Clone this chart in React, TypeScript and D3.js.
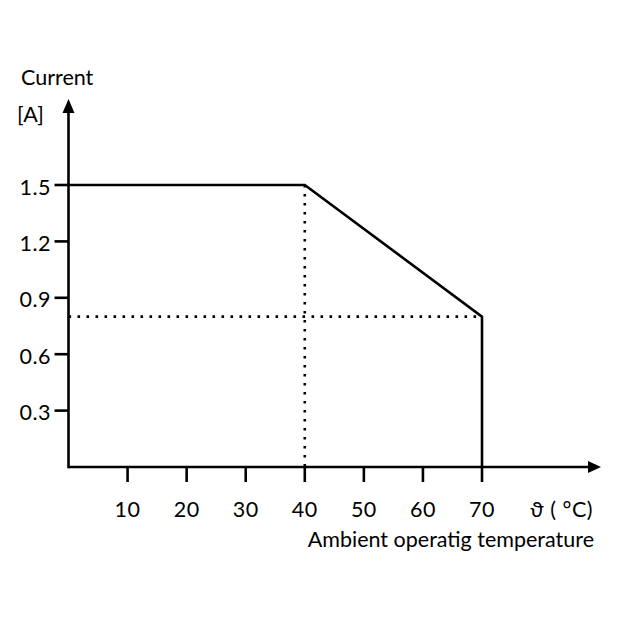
import React from "react";
import * as d3 from "d3";

const temps = [0, 40, 70, 70];
const currents = [1.5, 1.5, 0.8, 0];
const xTicks = [10, 20, 30, 40, 50, 60, 70];
const yTicks = [0.3, 0.6, 0.9, 1.2, 1.5];
const yTickLabels = ["0.3", "0.6", "0.9", "1.2", "1.5"];
const refTemp = 40;
const refCurrent = 0.8;

export default function App() {
  const x = d3.scaleLinear().domain([0, 70]).range([68.5, 482]);
  const y = d3.scaleLinear().domain([0, 1.5]).range([467, 185]);
  const font = "Lato, 'Liberation Sans', sans-serif";
  const fw = 400;
  const fs = 21.5;
  const line = d3
    .line<number>()
    .x((_, i) => x(temps[i]))
    .y((d) => y(d));
  const x0 = x(0);
  const y0 = y(0);
  return (
    <svg width={621} height={621} style={{ position: "absolute", left: 0, top: 0, background: "#fff" }}>
      <rect width={621} height={621} fill="#fff" />
      {/* dotted helpers */}
      <line x1={x(refTemp)} x2={x(refTemp)} y1={y(1.5)} y2={y0} stroke="#000" strokeWidth={2.6} strokeDasharray="2.6 6.4" />
      <line x1={x0} x2={x(70)} y1={y(refCurrent)} y2={y(refCurrent)} stroke="#000" strokeWidth={2.6} strokeDasharray="2.6 6.4" />
      {/* axes */}
      <line x1={x0} x2={590} y1={y0} y2={y0} stroke="#000" strokeWidth={2.6} />
      <path d={`M601,${y0} L588,${y0 - 6} L588,${y0 + 6} Z`} fill="#000" />
      <line x1={x0} x2={x0} y1={y0 + 1.3} y2={112} stroke="#000" strokeWidth={2.6} />
      <path d={`M${x0},99 L${x0 - 6},113 L${x0 + 6},113 Z`} fill="#000" />
      {xTicks.map((t) => (
        <g key={t}>
          <line x1={x(t)} x2={x(t)} y1={y0} y2={y0 + 15} stroke="#000" strokeWidth={2.6} />
          <text x={x(t)} y={516.5} textAnchor="middle" fontFamily={font} fontWeight={fw} fontSize={fs} letterSpacing={0.5}>
            {t}
          </text>
        </g>
      ))}
      {yTicks.map((t, i) => (
        <g key={t}>
          <line x1={x0 - 14} x2={x0} y1={y(t)} y2={y(t)} stroke="#000" strokeWidth={2.6} />
          <text x={51} y={y(t) + 9.5} textAnchor="end" fontFamily={font} fontWeight={fw} fontSize={fs} letterSpacing={0.5}>
            {yTickLabels[i]}
          </text>
        </g>
      ))}
      {/* curve */}
      <path d={line(currents) || ""} fill="none" stroke="#000" strokeWidth={2.6} strokeLinejoin="miter" />
      {/* labels */}
      <text x={21} y={85} fontFamily={font} fontWeight={fw} fontSize={fs}>Current</text>
      <text x={17} y={121.5} fontFamily={font} fontWeight={fw} fontSize={fs}>[A]</text>
      <text x={593} y={516.5} textAnchor="end" fontFamily={font} fontWeight={fw} fontSize={fs} letterSpacing={0.5}>ϑ ( °C)</text>
      <text x={594} y={546.5} textAnchor="end" fontFamily={font} fontWeight={fw} fontSize={fs}>Ambient operatig temperature</text>
    </svg>
  );
}
